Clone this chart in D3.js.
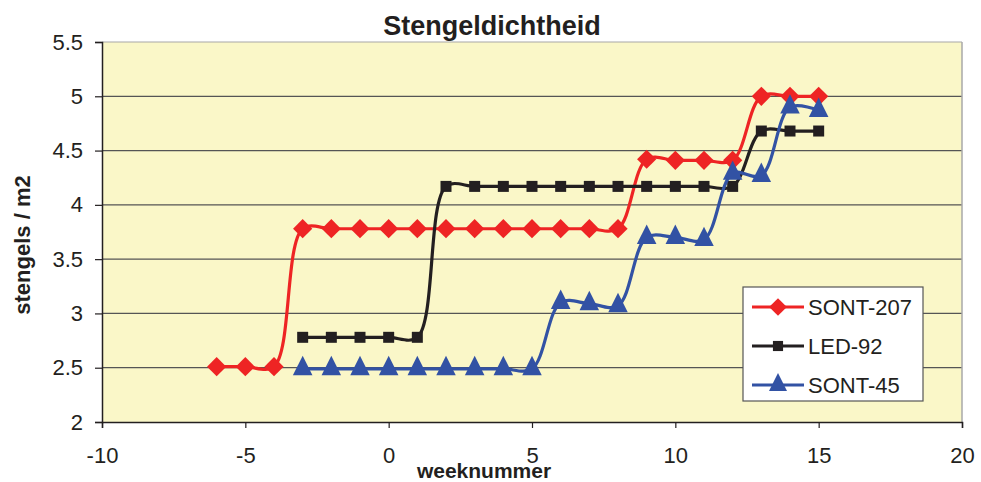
<!DOCTYPE html>
<html>
<head>
<meta charset="utf-8">
<script src="https://cdn.jsdelivr.net/npm/d3@7"></script>
<style>
  body { margin: 0; background: #fff; }
  text { font-family: "Liberation Sans", Arial, sans-serif; fill: #231f20; }
</style>
</head>
<body>
<div id="chart"></div>
<script>
// weeks and values
var weeks207 = [-6, -5, -4, -3, -2, -1, 0, 1, 2, 3, 4, 5, 6, 7, 8, 9, 10, 11, 12, 13, 14, 15];
var sont207 = [2.51, 2.51, 2.51, 3.78, 3.78, 3.78, 3.78, 3.78, 3.78, 3.78, 3.78, 3.78, 3.78, 3.78, 3.78, 4.42, 4.41, 4.41, 4.41, 5.0, 5.0, 5.0];
var weeks92 = [-3, -2, -1, 0, 1, 2, 3, 4, 5, 6, 7, 8, 9, 10, 11, 12, 13, 14, 15];
var led92 = [2.78, 2.78, 2.78, 2.78, 2.78, 4.17, 4.17, 4.17, 4.17, 4.17, 4.17, 4.17, 4.17, 4.17, 4.17, 4.17, 4.68, 4.68, 4.68];
var weeks45 = [-3, -2, -1, 0, 1, 2, 3, 4, 5, 6, 7, 8, 9, 10, 11, 12, 13, 14, 15];
var sont45 = [2.49, 2.49, 2.49, 2.49, 2.49, 2.49, 2.49, 2.49, 2.49, 3.1, 3.09, 3.07, 3.7, 3.7, 3.68, 4.29, 4.27, 4.9, 4.87];
var xTicks = [-10, -5, 0, 5, 10, 15, 20];
var yTicks = [2, 2.5, 3, 3.5, 4, 4.5, 5, 5.5];

var width = 981, height = 482;
var svg = d3.select("#chart").append("svg")
    .attr("width", width)
    .attr("height", height);

var pLeft = 102, pRight = 962, pTop = 42, pBottom = 422;

var x = d3.scaleLinear().domain([-10, 20]).range([pLeft, pRight]);
var y = d3.scaleLinear().domain([2, 5.5]).range([pBottom, pTop]);

// plot background
svg.append("rect")
    .attr("x", pLeft).attr("y", pTop)
    .attr("width", pRight - pLeft).attr("height", pBottom - pTop)
    .attr("fill", "#faf7c8");

// gridlines
svg.append("g").selectAll("line")
    .data(yTicks.slice(1))
    .enter().append("line")
    .attr("x1", pLeft).attr("x2", pRight)
    .attr("y1", function (d) { return y(d); })
    .attr("y2", function (d) { return y(d); })
    .attr("stroke", function (d) { return d == 5.5 ? "#a8a8a8" : "#555"; })
    .attr("stroke-width", 1.2);

// right border
svg.append("line")
    .attr("x1", pRight).attr("x2", pRight).attr("y1", pTop).attr("y2", pBottom)
    .attr("stroke", "#a8a8a8").attr("stroke-width", 1.5);

var xAxis = svg.append("g")
    .attr("transform", "translate(0," + pBottom + ")")
    .call(d3.axisBottom(x).tickValues(xTicks).tickSize(6).tickPadding(19).tickFormat(function (d) { return String(d); }));
var yAxis = svg.append("g")
    .attr("transform", "translate(" + pLeft + ",0)")
    .call(d3.axisLeft(y).tickValues(yTicks).tickSize(7).tickPadding(12).tickFormat(function (d) { return String(d); }));

[xAxis, yAxis].forEach(function (a) {
    a.select(".domain").attr("stroke", "#231f20").attr("stroke-width", 1.5);
    a.selectAll(".tick line").attr("stroke", "#231f20").attr("stroke-width", 1.2);
    a.selectAll(".tick text").style("font-size", "22px").attr("fill", "#231f20");
});

// titles
svg.append("text")
    .attr("x", 492).attr("y", 35)
    .attr("text-anchor", "middle")
    .style("font-size", "27px").style("font-weight", "bold")
    .text("Stengeldichtheid");
svg.append("text")
    .attr("x", 484).attr("y", 478)
    .attr("text-anchor", "middle")
    .style("font-size", "21px").style("font-weight", "bold")
    .text("weeknummer");
svg.append("text")
    .attr("transform", "translate(30,245) rotate(-90)")
    .attr("text-anchor", "middle")
    .style("font-size", "22px").style("font-weight", "bold")
    .text("stengels / m2");

var series = [
    { name: "SONT-207", weeks: weeks207, values: sont207, color: "#ee2424", symbol: d3.symbolSquare, size: 185, rot: 45, sy: 1 },
    { name: "LED-92", weeks: weeks92, values: led92, color: "#231f20", symbol: d3.symbolSquare, size: 121, rot: 0, sy: 1 },
    { name: "SONT-45", weeks: weeks45, values: sont45, color: "#3252a4", symbol: d3.symbolTriangle, size: 165, rot: 0, sy: 1.15 }
];

function markTransform(s, px, py) {
    return "translate(" + px + "," + py + ") rotate(" + s.rot + ") scale(1," + s.sy + ")";
}

var line = d3.line()
    .x(function (d) { return x(d[0]); })
    .y(function (d) { return y(d[1]); })
    .curve(d3.curveCatmullRom.alpha(0.5));

series.forEach(function (s) {
    var pts = s.weeks.map(function (w, i) { return [w, s.values[i]]; });
    svg.append("path")
        .datum(pts)
        .attr("d", line)
        .attr("fill", "none")
        .attr("stroke", s.color)
        .attr("stroke-width", 3.2);
    svg.append("g").selectAll("path")
        .data(pts)
        .enter().append("path")
        .attr("transform", function (d) { return markTransform(s, x(d[0]), y(d[1])); })
        .attr("d", d3.symbol().type(s.symbol).size(s.size))
        .attr("fill", s.color);
});

// legend
var lg = svg.append("g");
lg.append("rect")
    .attr("x", 743).attr("y", 287)
    .attr("width", 180).attr("height", 114)
    .attr("fill", "#fff").attr("stroke", "#555").attr("stroke-width", 1.2);
series.forEach(function (s, i) {
    var ly = 307 + i * 39;
    lg.append("line")
        .attr("x1", 752).attr("x2", 804).attr("y1", ly).attr("y2", ly)
        .attr("stroke", s.color).attr("stroke-width", 3.2);
    lg.append("path")
        .attr("transform", markTransform(s, 778, ly))
        .attr("d", d3.symbol().type(s.symbol).size(s.size * 0.85))
        .attr("fill", s.color);
    lg.append("text")
        .attr("x", 808).attr("y", ly + 8)
        .style("font-size", "22px")
        .text(s.name);
});
</script>
</body>
</html>
